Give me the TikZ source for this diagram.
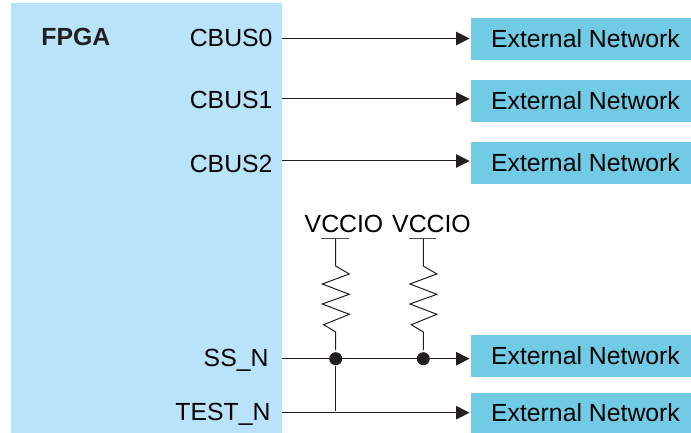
\documentclass[tikz,border=0pt]{standalone}
\usepackage{fontspec}
\setmainfont{Liberation Sans}
\usetikzlibrary{arrows.meta,positioning}

\definecolor{fpgablue}{HTML}{B9E3F9}
\definecolor{netblue}{HTML}{72CBE4}
\definecolor{inkblack}{HTML}{231F20}

\begin{document}
\begin{tikzpicture}[
		x=1pt,
		y=-1pt,
		>={Triangle[length=13.5pt,width=13.5pt]},
		shorten >=1.5pt,
		line width=1pt,
		draw=inkblack,
		net node/.style={inner sep=0pt,outer sep=0pt,minimum width=220pt,minimum height=42pt,fill=netblue,font=\fontsize{24.8}{26}\selectfont,execute at begin node=\hspace*{9pt}},
		pin node/.style={inner sep=0pt,anchor=base east,text=black,font=\fontsize{24.8}{26}\selectfont},
		supply node/.style={inner sep=0pt,anchor=base,text=black,font=\fontsize{24.8}{26}\selectfont},
		dot node/.style={circle,inner sep=0pt,minimum size=13pt,fill=inkblack}]

	\useasboundingbox (0,0) rectangle (691,433);

	\node[minimum width=271pt,minimum height=430pt,inner sep=0pt,fill=fpgablue] (fpga) at (146.5,218) {};
	\node[inner sep=0pt,anchor=base west,text=inkblack,font=\fontsize{24.8}{26}\selectfont\bfseries] (title) at (41,46) {FPGA};

	\node[pin node] (cbus0) at (273,47) {CBUS0};
	\node[pin node] (cbus1) at (273,109) {CBUS1};
	\node[pin node] (cbus2) at (273,172) {CBUS2};
	\node[pin node] (ssn) at (269,366) {SS\_N};
	\node[pin node] (testn) at (271,420) {TEST\_N};

	\node[net node] (ext0) at (581,39) {External Network};
	\node[net node] (ext1) [below=20pt of ext0] {External Network};
	\node[net node] (ext2) [below=20pt of ext1] {External Network};
	\node[net node] (ext3) at (581,356) {External Network};
	\node[net node,minimum height=40pt] (ext4) at (581,413) {External Network};

	\node[supply node] (vcc1) at (344,232) {VCCIO};
	\node[supply node] (vcc2) at (431.5,232) {VCCIO};

	\coordinate (o0) at (282,38.5);
	\coordinate (o1) at (282,99);
	\coordinate (o2) at (282,161);
	\coordinate (o3) at (282,358.7);
	\coordinate (o4) at (282,412.7);

	\coordinate (r1) at (335.7,238.7);
	\coordinate (r2) at (423.3,238.7);

	\node[dot node] (dot1) at (r1 |- o3) {};
	\node[dot node] (dot2) at (r2 |- o3) {};
	\coordinate (tee) at (r1 |- o4);

	% supply bars
	\draw[inkblack!80] ([xshift=-14.3pt]r1) -- ([xshift=14.3pt]r1);
	\draw[inkblack!80] ([xshift=-14.3pt]r2) -- ([xshift=14.3pt]r2);

	% resistors
	\draw (r1) -- ++(0,27.3) -- ++(13.6,8) -- ++(-27,10) -- ++(27,10.3) -- ++(-27,9.7) -- ++(27,10.3) -- ++(-25.6,10.4) -- ++(12,7.3) -- (dot1);
	\draw (r2) -- ++(0,27.3) -- ++(13.6,8) -- ++(-27,10) -- ++(27,10.3) -- ++(-27,9.7) -- ++(27,10.3) -- ++(-25.6,10.4) -- ++(12,7.3) -- (dot2);

	\path[->]
		(o0) edge (o0 -| ext0.west)
		(o1) edge (o1 -| ext1.west)
		(o2) edge (o2 -| ext2.west)
		(o3) edge (o3 -| ext3.west)
		(o4) edge (o4 -| ext4.west)
	;

	\draw (dot1) -- (tee);
\end{tikzpicture}
\end{document}
